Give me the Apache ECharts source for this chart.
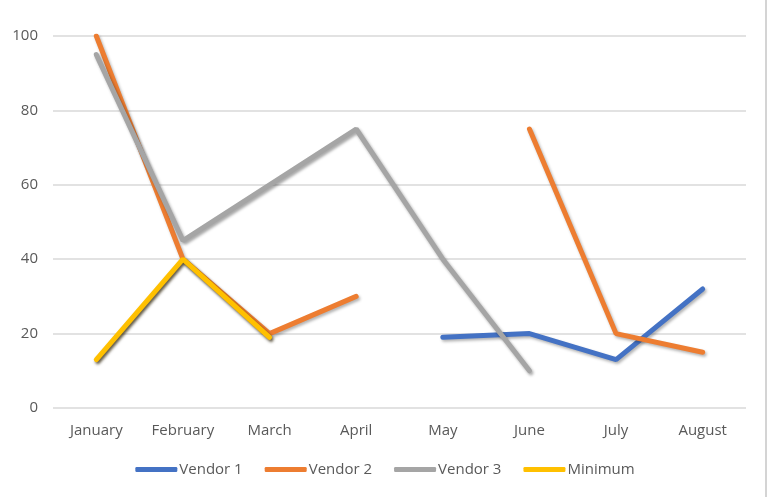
<!DOCTYPE html>
<html>
<head>
<meta charset="utf-8">
<script src="https://cdn.jsdelivr.net/npm/echarts@6/dist/echarts.min.js"></script>
<style>
  html, body { margin: 0; padding: 0; background: #fff; }
  #chart { width: 770px; height: 497px; }
</style>
</head>
<body>
<div id="chart"></div>
<script>
// 数据
const months = ['January', 'February', 'March', 'April', 'May', 'June', 'July', 'August'];
const vendor1 = [null, null, null, null, 19, 20, 13, 32];
const vendor2 = [100, 40, 20, 30, null, 75, 20, 15];
const vendor3 = [95, 45, 60, 75, 40, 10, null, null];
const minimum = [13, 40, 19, null, null, null, null, null];
const yTicks = [0, 20, 40, 60, 80, 100];

const FONT = 'Open Sans';
const LABEL_COLOR = '#595959';

// 统一的线条样式
function makeLine(name, data, color, shadow) {
  return {
    name: name,
    type: 'line',
    data: data,
    showSymbol: false,
    symbol: 'none',
    connectNulls: false,
    lineStyle: {
      color: color,
      width: 5,
      cap: 'round',
      shadowColor: shadow,
      shadowBlur: 3,
      shadowOffsetX: 1.5,
      shadowOffsetY: 2
    },
    itemStyle: { color: color },
    emphasis: { disabled: true }
  };
}

const chart = echarts.init(document.getElementById('chart'));

chart.setOption({
  animation: false,
  grid: { left: 53, right: 24, top: 36, bottom: 89 },
  legend: {
    bottom: 15,
    left: 'center',
    icon: 'roundRect',
    itemWidth: 42,
    itemHeight: 5,
    itemGap: 22,
    textStyle: { fontFamily: FONT, fontSize: 15, color: LABEL_COLOR, padding: [0, 0, 0, -3] },
    data: ['Vendor 1', 'Vendor 2', 'Vendor 3', 'Minimum']
  },
  xAxis: {
    type: 'category',
    data: months,
    boundaryGap: true,
    axisLine: { show: false },
    axisTick: { show: false },
    axisLabel: { fontFamily: FONT, fontSize: 15, color: LABEL_COLOR, margin: 15 }
  },
  yAxis: {
    type: 'value',
    min: yTicks[0],
    max: yTicks[yTicks.length - 1],
    interval: 20,
    axisLine: { show: false },
    axisTick: { show: false },
    axisLabel: { fontFamily: FONT, fontSize: 15, color: LABEL_COLOR, margin: 15 },
    splitLine: { lineStyle: { color: '#d9d9d9', width: 1.5 } }
  },
  series: [
    makeLine('Vendor 1', vendor1, '#4472C4', 'rgba(0,0,0,0.3)'),
    makeLine('Vendor 2', vendor2, '#ED7D31', 'rgba(0,0,0,0.3)'),
    makeLine('Vendor 3', vendor3, '#A5A5A5', 'rgba(0,0,0,0.35)'),
    makeLine('Minimum', minimum, '#FFC000', 'rgba(40,30,0,0.75)')
  ],
  graphic: [{
    type: 'line',
    shape: { x1: 766, y1: 0, x2: 766, y2: 497 },
    style: { stroke: '#d4d4d4', lineWidth: 2 },
    silent: true
  }]
});
</script>
</body>
</html>
